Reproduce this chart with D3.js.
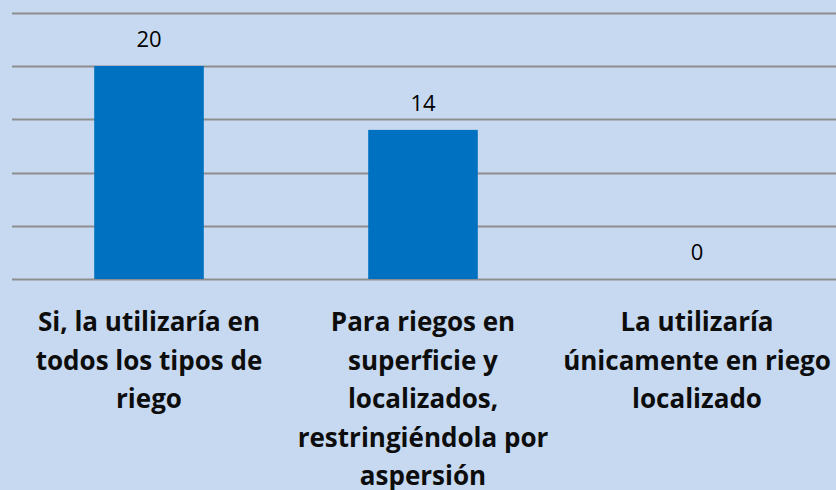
<!DOCTYPE html>
<html>
<head>
<meta charset="utf-8">
<script src="https://cdn.jsdelivr.net/npm/d3@7"></script>
<style>
  body { margin: 0; background: #c6d9f0; }
  svg { display: block; }
</style>
</head>
<body>
<div id="chart"></div>
<script>
const categories = [
  ['Si, la utilizaría en', 'todos los tipos de', 'riego'],
  ['Para riegos en', 'superficie y', 'localizados,', 'restringiéndola por', 'aspersión'],
  ['La utilizaría', 'únicamente en riego', 'localizado']
];
const values = [20, 14, 0];
const yTicks = [0, 5, 10, 15, 20, 25];

const width = 836;
const height = 490;

const svg = d3.select('#chart')
  .append('svg')
  .attr('width', width)
  .attr('height', height);

svg.append('rect')
  .attr('width', width)
  .attr('height', height)
  .attr('fill', '#c6d9f0');

const x = d3.scaleBand()
  .domain(d3.range(categories.length))
  .range([12, 834])
  .paddingInner(0.6)
  .paddingOuter(0.3);

const y = d3.scaleLinear()
  .domain([0, 25])
  .range([279, 12.75]);

// gridlines
svg.selectAll('line.grid')
  .data(yTicks)
  .enter()
  .append('line')
  .attr('class', 'grid')
  .attr('x1', 12)
  .attr('x2', width)
  .attr('y1', (d) => Math.round(y(d)) + 0.5)
  .attr('y2', (d) => Math.round(y(d)) + 0.5)
  .attr('stroke', '#8e8e8e')
  .attr('stroke-width', 2);

svg.selectAll('rect.bar')
  .data(values)
  .enter()
  .append('rect')
  .attr('class', 'bar')
  .attr('x', (d, i) => x(i))
  .attr('y', (d) => y(d))
  .attr('width', x.bandwidth())
  .attr('height', (d) => y(0) - y(d))
  .attr('fill', '#0070c0');

svg.selectAll('text.value')
  .data(values)
  .enter()
  .append('text')
  .attr('class', 'value')
  .attr('x', (d, i) => x(i) + x.bandwidth() / 2)
  .attr('y', (d) => y(d) - 19)
  .attr('text-anchor', 'middle')
  .attr('font-family', '"Open Sans", Lato, sans-serif')
  .attr('font-size', 22)
  .attr('fill', '#000')
  .text((d) => d);

// category labels, one tspan per line
const labels = svg.selectAll('text.cat')
  .data(categories)
  .enter()
  .append('text')
  .attr('class', 'cat')
  .attr('text-anchor', 'middle')
  .attr('font-family', '"Open Sans", Lato, sans-serif')
  .attr('font-weight', 'bold')
  .attr('font-size', 26)
  .attr('fill', '#0d0d0d');

labels.each(function (lines, i) {
  const cx = x(i) + x.bandwidth() / 2;
  d3.select(this).selectAll('tspan')
    .data(lines)
    .enter()
    .append('tspan')
    .attr('x', cx)
    .attr('y', (d, j) => 331 + j * 38.5)
    .text((d) => d);
});
</script>
</body>
</html>
